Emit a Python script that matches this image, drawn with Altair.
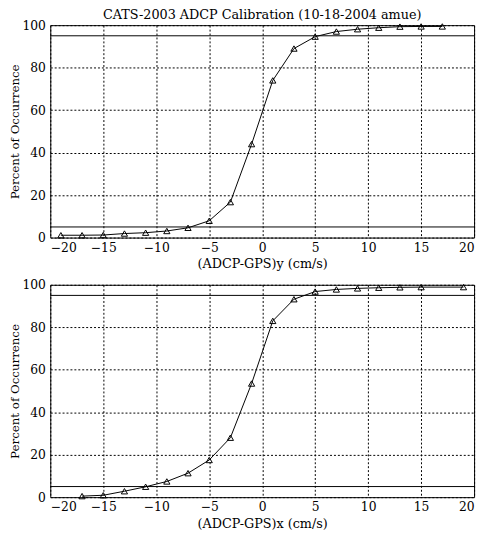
import altair as alt
import pandas as pd

x_top = [-19, -17, -15, -13, -11, -9, -7, -5, -3, -1, 1, 3, 5, 7, 9, 11, 13, 15, 17]
y_top = [1.1, 1.1, 1.2, 1.9, 2.3, 3.1, 4.6, 7.9, 16.7, 44.0, 74.0, 89.0, 94.6, 97.0, 98.1, 98.8, 99.3, 99.4, 99.4]

x_bot = [-17, -15, -13, -11, -9, -7, -5, -3, -1, 1, 3, 5, 7, 9, 11, 13, 15, 19]
y_bot = [0.5, 0.9, 2.8, 4.9, 7.4, 11.3, 17.5, 28.0, 53.5, 83.0, 93.2, 96.8, 97.8, 98.3, 98.6, 98.8, 98.9, 98.9]

ref_levels = [5, 95]
x_ticks = [-20, -15, -10, -5, 0, 5, 10, 15, 20]
y_ticks = [0, 20, 40, 60, 80, 100]

FONT = "DejaVu Serif"
W, H = 431, 216


def panel(xs, ys, xtitle, title=None):
    df = pd.DataFrame({"x": xs, "y": ys})
    xenc = alt.X("x:Q", scale=alt.Scale(domain=[-20, 20], nice=False),
                 axis=alt.Axis(values=x_ticks, title=xtitle))
    yenc = alt.Y("y:Q", scale=alt.Scale(domain=[0, 100], nice=False),
                 axis=alt.Axis(values=y_ticks, title="Percent of Occurrence"))
    line = alt.Chart(df).mark_line(color="black", strokeWidth=1).encode(x=xenc, y=yenc)
    pts = alt.Chart(df).mark_point(shape="triangle-up", filled=False, color="black",
                                   size=40, strokeWidth=1, opacity=1).encode(x="x:Q", y="y:Q")
    rules = alt.Chart(pd.DataFrame({"r": ref_levels})).mark_rule(
        color="black", strokeWidth=1).encode(y="r:Q")
    ch = alt.layer(rules, line, pts).properties(width=W, height=H)
    if title:
        ch = ch.properties(title=alt.TitleParams(title, fontSize=13, font=FONT,
                                                 fontWeight="normal", color="black",
                                                 offset=-3, anchor="middle"))
    return ch


top = panel(x_top, y_top, "(ADCP-GPS)y (cm/s)",
            title="CATS-2003 ADCP Calibration (10-18-2004 amue)")
bot = panel(x_bot, y_bot, "(ADCP-GPS)x (cm/s)")

chart = alt.vconcat(top, bot, spacing=7).properties(
    padding={"left": 0, "top": -4, "right": 5, "bottom": 0},
    background="white",
).configure_view(stroke="black", strokeWidth=1).configure_axis(
    grid=True, gridColor="black", gridDash=[2, 2], gridOpacity=1, gridWidth=1,
    domain=False, ticks=False, labelFont=FONT, labelFontSize=12.5,
    labelColor="black", labelPadding=5, titleFont=FONT, titleFontSize=12,
    titleFontWeight="normal", titleColor="black", titlePadding=0,
).configure_axisX(labelPadding=4, titlePadding=4, titleFontSize=13)

chart.save("out.html", embed_options={"renderer": "svg", "actions": False})
